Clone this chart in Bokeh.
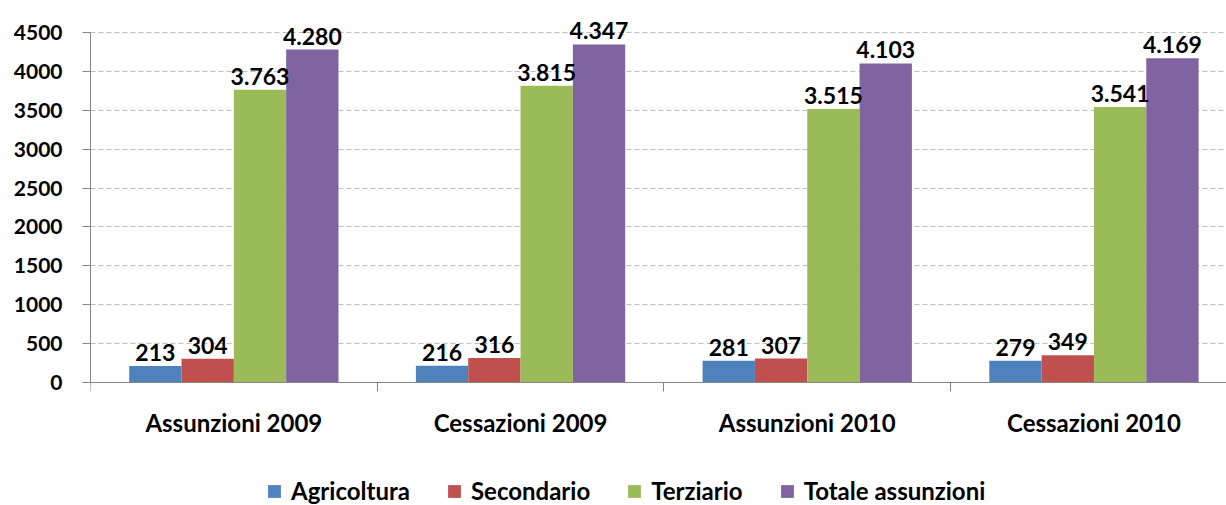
from bokeh.plotting import figure
from bokeh.models import (Range1d, FixedTicker, ColumnDataSource, LabelSet, Legend, LegendItem)
from bokeh.core.properties import value
from bokeh.embed import file_html
from bokeh.resources import INLINE

categories = ["Assunzioni 2009", "Cessazioni 2009", "Assunzioni 2010", "Cessazioni 2010"]
series_names = ["Agricoltura", "Secondario", "Terziario", "Totale assunzioni"]
agricoltura = [213, 216, 281, 279]
secondario = [304, 316, 307, 349]
terziario = [3763, 3815, 3515, 3541]
totale = [4280, 4347, 4103, 4169]
y_ticks = [0, 500, 1000, 1500, 2000, 2500, 3000, 3500, 4000, 4500]

colors = ["#4F81BD", "#C0504D", "#9BBB59", "#8064A2"]
FONT = "Lato"
W, H = 1226, 505
frame_left = 90
px_zero, px_top = 382, 32          # pixel rows of 0 and 4500
scale = (px_zero - px_top) / 4500.0
y_hi = 4500 + px_top / scale
y_lo = -(H - px_zero) / scale
group_px = 286.7
x_end = (W - frame_left) / group_px

p = figure(width=W, height=H, output_backend="svg", toolbar_location=None,
           x_range=Range1d(0, x_end), y_range=Range1d(y_lo, y_hi),
           min_border_left=frame_left, min_border_right=0,
           min_border_top=0, min_border_bottom=0)
p.outline_line_color = None
p.background_fill_color = "white"
p.border_fill_color = "white"

bw = 0.1825
all_series = [agricoltura, secondario, terziario, totale]
renderers = []
for k, (vals, col) in enumerate(zip(all_series, colors)):
    xs = [i + 0.5 + (k - 1.5) * bw for i in range(len(categories))]
    labels = ["{:,}".format(v).replace(",", ".") for v in vals]
    src = ColumnDataSource(dict(x=xs, top=vals, lab=labels))
    r = p.vbar(x="x", top="top", width=bw, source=src, fill_color=col, line_color=None)
    renderers.append(r)
    ls = LabelSet(x="x", y="top", text="lab", source=src, text_align="center",
                  text_baseline="alphabetic", y_offset=5,
                  text_font=value(FONT), text_font_style="bold", text_font_size="23px",
                  text_color="black")
    p.add_layout(ls)

# y axis
p.yaxis.ticker = FixedTicker(ticks=y_ticks)
p.yaxis.bounds = (0, 4500)
p.yaxis.major_tick_out = 8
p.yaxis.major_tick_in = 0
p.yaxis.minor_tick_line_color = None
p.yaxis.axis_line_color = "#868686"
p.yaxis.major_tick_line_color = "#868686"
p.yaxis.major_label_text_font = FONT
p.yaxis.major_label_text_font_style = "bold"
p.yaxis.major_label_text_font_size = "21px"
p.yaxis.major_label_text_color = "black"
p.yaxis.major_label_standoff = 20

# x axis, pinned at value 0
p.xaxis.fixed_location = 0
p.xaxis.ticker = FixedTicker(ticks=[i + 0.5 for i in range(len(categories))],
                             minor_ticks=list(range(len(categories) + 1)))
p.xaxis.major_label_overrides = {i + 0.5: c for i, c in enumerate(categories)}
p.xaxis.major_tick_out = 0
p.xaxis.major_tick_in = 0
p.xaxis.minor_tick_out = 9
p.xaxis.minor_tick_in = 0
p.xaxis.minor_tick_line_color = "#868686"
p.xaxis.axis_line_color = "#868686"
p.xaxis.major_label_text_font = FONT
p.xaxis.major_label_text_font_style = "bold"
p.xaxis.major_label_text_font_size = "24px"
p.xaxis.major_label_text_color = "black"
p.xaxis.major_label_standoff = 16

p.xgrid.grid_line_color = None
p.ygrid.ticker = FixedTicker(ticks=y_ticks)
p.ygrid.grid_line_color = "#BFBFBF"
p.ygrid.grid_line_dash = "5 3"
p.ygrid.grid_line_width = 1

legend = Legend(items=[LegendItem(label=n, renderers=[r]) for n, r in zip(series_names, renderers)],
                orientation="horizontal", location=(176, 0),
                glyph_width=16, glyph_height=16, label_standoff=9, spacing=36,
                padding=0, margin=0, border_line_color=None, background_fill_alpha=0,
                label_text_font=FONT, label_text_font_style="bold", label_text_font_size="24px",
                label_text_color="black")
p.add_layout(legend, "center")

open("out.html", "w").write(file_html(p, INLINE))
